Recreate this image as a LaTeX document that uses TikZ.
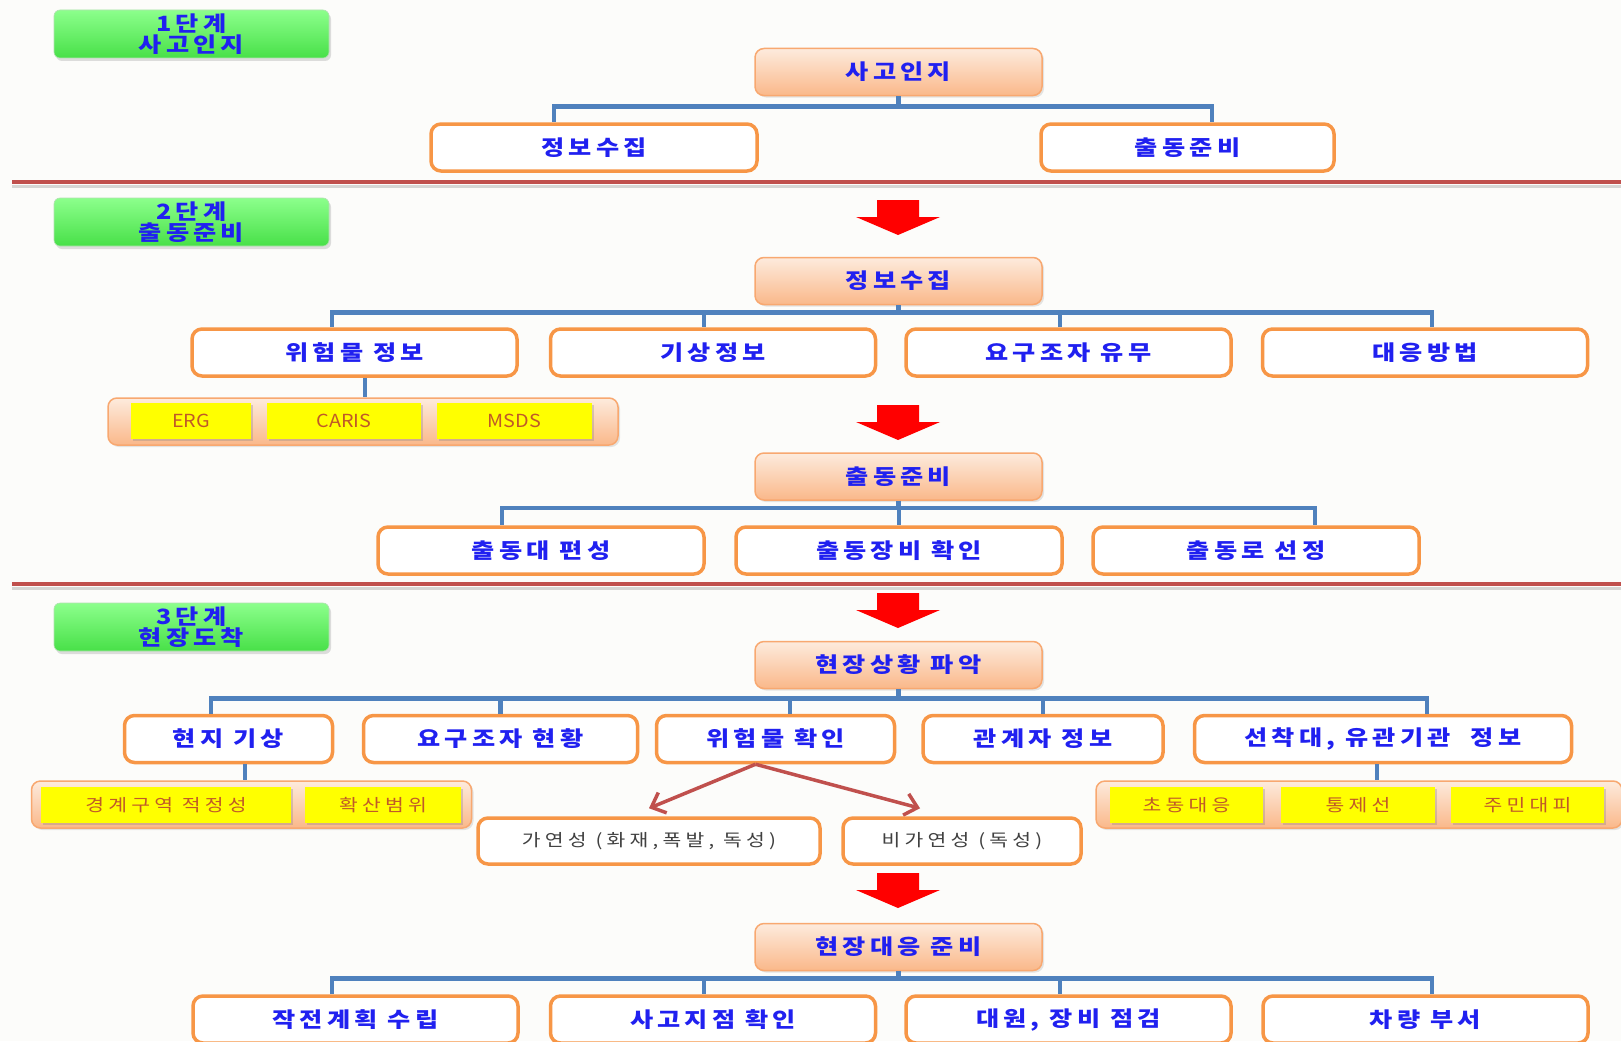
\documentclass[tikz,border=0pt]{standalone}
\usepackage{fontspec}
\setmainfont{Noto Sans CJK KR}
\newfontfamily\kr{Noto Sans CJK KR}[FakeStretch=1.2, LetterSpace=20]
\newfontfamily\krs{Noto Sans CJK KR}[FakeStretch=1.2, LetterSpace=25]
\newfontfamily\krl{Noto Sans CJK KR}[FakeStretch=1.1]
\usetikzlibrary{shadows,arrows.meta,calc}
\definecolor{bg}{HTML}{FCFCFA}
\definecolor{orline}{HTML}{F79646}
\definecolor{orbord}{HTML}{F8A870}
\definecolor{peachtop}{HTML}{FDEBDD}
\definecolor{peachbot}{HTML}{FAB88A}
\definecolor{tblue}{HTML}{2020F0}
\definecolor{cblue}{HTML}{4F81BD}
\definecolor{sepred}{HTML}{C0504D}
\definecolor{yel}{HTML}{FFFF00}
\definecolor{ybrown}{HTML}{C05A28}
\definecolor{grtop}{HTML}{8CFF8C}
\definecolor{grbot}{HTML}{48E048}
\definecolor{graytxt}{HTML}{404040}
\newcommand\redarr[2]{\fill[red] (#1-21,#2) -- (#1+21,#2) -- (#1+21,#2+17) -- (#1+42,#2+17) -- (#1,#2+35) -- (#1-42,#2+17) -- (#1-21,#2+17) -- cycle;}
\begin{document}
\begin{tikzpicture}[x=1pt,y=-1pt,
  mainfont/.style={font=\kr\bfseries\fontsize{21}{21}\selectfont, text=tblue},
  topbox/.style={mainfont, draw=orbord, line width=1.5pt, rounded corners=9pt,
    top color=peachtop, bottom color=peachbot, minimum width=287pt, minimum height=47pt,
    inner sep=0pt, drop shadow={opacity=0.2, shadow xshift=2pt, shadow yshift=-2pt}},
  childbox/.style={mainfont, draw=orline, line width=3.5pt, rounded corners=10pt,
    fill=white, minimum height=47pt, inner sep=0pt},
  graybox/.style={childbox, font=\krs\fontsize{17}{17}\selectfont, text=graytxt},
  grnbox/.style={draw=grbot!80!black!40, line width=0.6pt, rounded corners=6pt,
    top color=grtop, bottom color=grbot, minimum width=275pt, minimum height=48pt,
    inner sep=0pt, align=center, font=\kr\bfseries\fontsize{21}{18.5}\selectfont, text=tblue,
    drop shadow={opacity=0.25, shadow xshift=2pt, shadow yshift=-3pt}},
  grpbox/.style={draw=orbord, line width=1.5pt, rounded corners=9pt,
    top color=peachtop, bottom color=peachbot, minimum height=47pt, inner sep=0pt,
    drop shadow={opacity=0.2, shadow xshift=2pt, shadow yshift=-2pt}},
  ybox/.style={fill=yel, minimum height=36pt, inner sep=0pt,
    font=\krs\fontsize{17}{17}\selectfont, text=ybrown,
    drop shadow={opacity=0.3, shadow xshift=2pt, shadow yshift=-2pt}},
  lbox/.style={ybox, font=\krl\fontsize{18}{18}\selectfont},
  conn/.style={draw=cblue, line width=4.5pt},
  sep/.style={draw=sepred, line width=4pt},
  sepshadow/.style={draw=black, opacity=0.15, line width=3pt},
  thinarr/.style={draw=sepred, line width=3.5pt, -{Straight Barb[length=12pt,width=22pt]}}
]
\useasboundingbox[fill=bg] (0,0) rectangle (1621,1041);

% separators
\draw[sepshadow] (12,186) -- (1621,186);
\draw[sep] (12,182) -- (1621,182);
\draw[sepshadow] (12,588) -- (1621,588);
\draw[sep] (12,584) -- (1621,584);

% stage labels
\node[grnbox] (g1) at (191.5,34) {1단계\\사고인지};
\node[grnbox] (g2) at (191.5,222) {2단계\\출동준비};
\node[grnbox] (g3) at (191.5,627) {3단계\\현장도착};

% stage 1
\node[topbox] (t1) at (898.5,72) {사고인지};
\node[childbox, minimum width=326pt] (a1) at (594,147.5) {정보수집};
\node[childbox, minimum width=293pt] (a2) at (1187.5,147.5) {출동준비};
\draw[conn] (t1.south) -- ++(0,10) -| ([xshift=-40pt]a1.north);
\draw[conn] (t1.south) -- ++(0,10) -| ([xshift=24.5pt]a2.north);

\redarr{898}{200}

% stage 2: 정보수집
\node[topbox] (t2) at (898.5,281) {정보수집};
\node[childbox, minimum width=325pt] (b1) at (354.5,352.5) {위험물 정보};
\node[childbox, minimum width=325pt] (b2) at (713,352.5) {기상정보};
\node[childbox, minimum width=325pt] (b3) at (1068.5,352.5) {요구조자 유무};
\node[childbox, minimum width=325pt] (b4) at (1425,352.5) {대응방법};
\draw[conn] (t2.south) -- ++(0,7) -| ([xshift=-22.5pt]b1.north);
\draw[conn] (t2.south) -- ++(0,7) -| ([xshift=-9pt]b2.north);
\draw[conn] (t2.south) -- ++(0,7) -| ([xshift=-8.5pt]b3.north);
\draw[conn] (t2.south) -- ++(0,7) -| ([xshift=7pt]b4.north);

\node[grpbox, minimum width=510pt] (gp1) at (363,421.5) {};
\node[lbox, minimum width=120pt] (y1) at (191,421) {ERG};
\node[lbox, minimum width=154pt] (y2) at (344,421) {CARIS};
\node[lbox, minimum width=155pt] (y3) at (514.5,421) {MSDS};
\draw[conn] ([xshift=10.5pt]b1.south) -- ([xshift=10.5pt]b1.south |- gp1.north);

\redarr{898}{405}

% stage 2: 출동준비
\node[topbox] (t3) at (898.5,476.5) {출동준비};
\node[childbox, minimum width=326pt] (c1) at (541,550.5) {출동대 편성};
\node[childbox, minimum width=326pt] (c2) at (899,550.5) {출동장비 확인};
\node[childbox, minimum width=326pt] (c3) at (1256,550.5) {출동로 선정};
\draw[conn] (t3.south) -- ++(0,7) -| ([xshift=-39pt]c1.north);
\draw[conn] (t3.south) -- ++(0,7) -| (c2.north);
\draw[conn] (t3.south) -- ++(0,7) -| ([xshift=59pt]c3.north);

\redarr{898}{593}

% stage 3
\node[topbox] (t4) at (898.5,665) {현장상황 파악};
\node[childbox, minimum width=208pt] (d1) at (228.5,739) {현지 기상};
\node[childbox, minimum width=274pt] (d2) at (500.5,739) {요구조자 현황};
\node[childbox, minimum width=238pt] (d3) at (775.5,739) {위험물 확인};
\node[childbox, minimum width=240pt] (d4) at (1043,739) {관계자 정보};
\node[childbox, minimum width=377pt] (d5) at (1383,739) {선착대, 유관기관\ \ 정보};
\draw[conn] (t4.south) -- ++(0,9) -| ([xshift=-17.5pt]d1.north);
\draw[conn] (t4.south) -- ++(0,9) -| (d2.north);
\draw[conn] (t4.south) -- ++(0,9) -| ([xshift=14.5pt]d3.north);
\draw[conn] (t4.south) -- ++(0,9) -| (d4.north);
\draw[conn] (t4.south) -- ++(0,9) -| ([xshift=44pt]d5.north);

\node[grpbox, minimum width=440pt] (gp2) at (251.5,804.5) {};
\node[ybox, minimum width=250pt] (y4) at (166,805) {경계구역 적정성};
\node[ybox, minimum width=156pt] (y5) at (383,805) {확산범위};
\draw[conn] ([xshift=16.5pt]d1.south) -- ([xshift=16.5pt]d1.south |- gp2.north);

\node[grpbox, minimum width=526pt] (gp3) at (1359,804.5) {};
\node[ybox, minimum width=153pt] (y6) at (1186.5,805) {초동대응};
\node[ybox, minimum width=154pt] (y7) at (1358,805) {통제선};
\node[ybox, minimum width=153pt] (y8) at (1527.5,805) {주민대피};
\draw[conn] ([xshift=-6pt]d5.south) -- ([xshift=-6pt]d5.south |- gp3.north);

\node[graybox, minimum width=342pt, minimum height=46pt] (e1) at (649,841) {가연성 (화재,폭발, 독성)};
\node[graybox, minimum width=238pt, minimum height=46pt] (e2) at (962,841) {비가연성 (독성)};
\draw[thinarr] ([xshift=-20pt]d3.south) -- ([yshift=8pt]e1.north);
\draw[thinarr] ([xshift=-20pt]d3.south) -- ([xshift=-42pt,yshift=8pt]e2.north);

\redarr{898}{873}

% stage 3: 현장대응 준비
\node[topbox] (t5) at (898.5,947) {현장대응 준비};
\node[childbox, minimum width=325pt] (f1) at (355.5,1019.5) {작전계획 수립};
\node[childbox, minimum width=325pt] (f2) at (713,1019.5) {사고지점 확인};
\node[childbox, minimum width=325pt] (f3) at (1068.5,1019.5) {대원, 장비 점검};
\node[childbox, minimum width=325pt] (f4) at (1425.5,1019.5) {차량 부서};
\draw[conn] (t5.south) -- ++(0,7) -| ([xshift=-23.5pt]f1.north);
\draw[conn] (t5.south) -- ++(0,7) -| ([xshift=-9pt]f2.north);
\draw[conn] (t5.south) -- ++(0,7) -| ([xshift=-8.5pt]f3.north);
\draw[conn] (t5.south) -- ++(0,7) -| ([xshift=6.5pt]f4.north);
\end{tikzpicture}
\end{document}
